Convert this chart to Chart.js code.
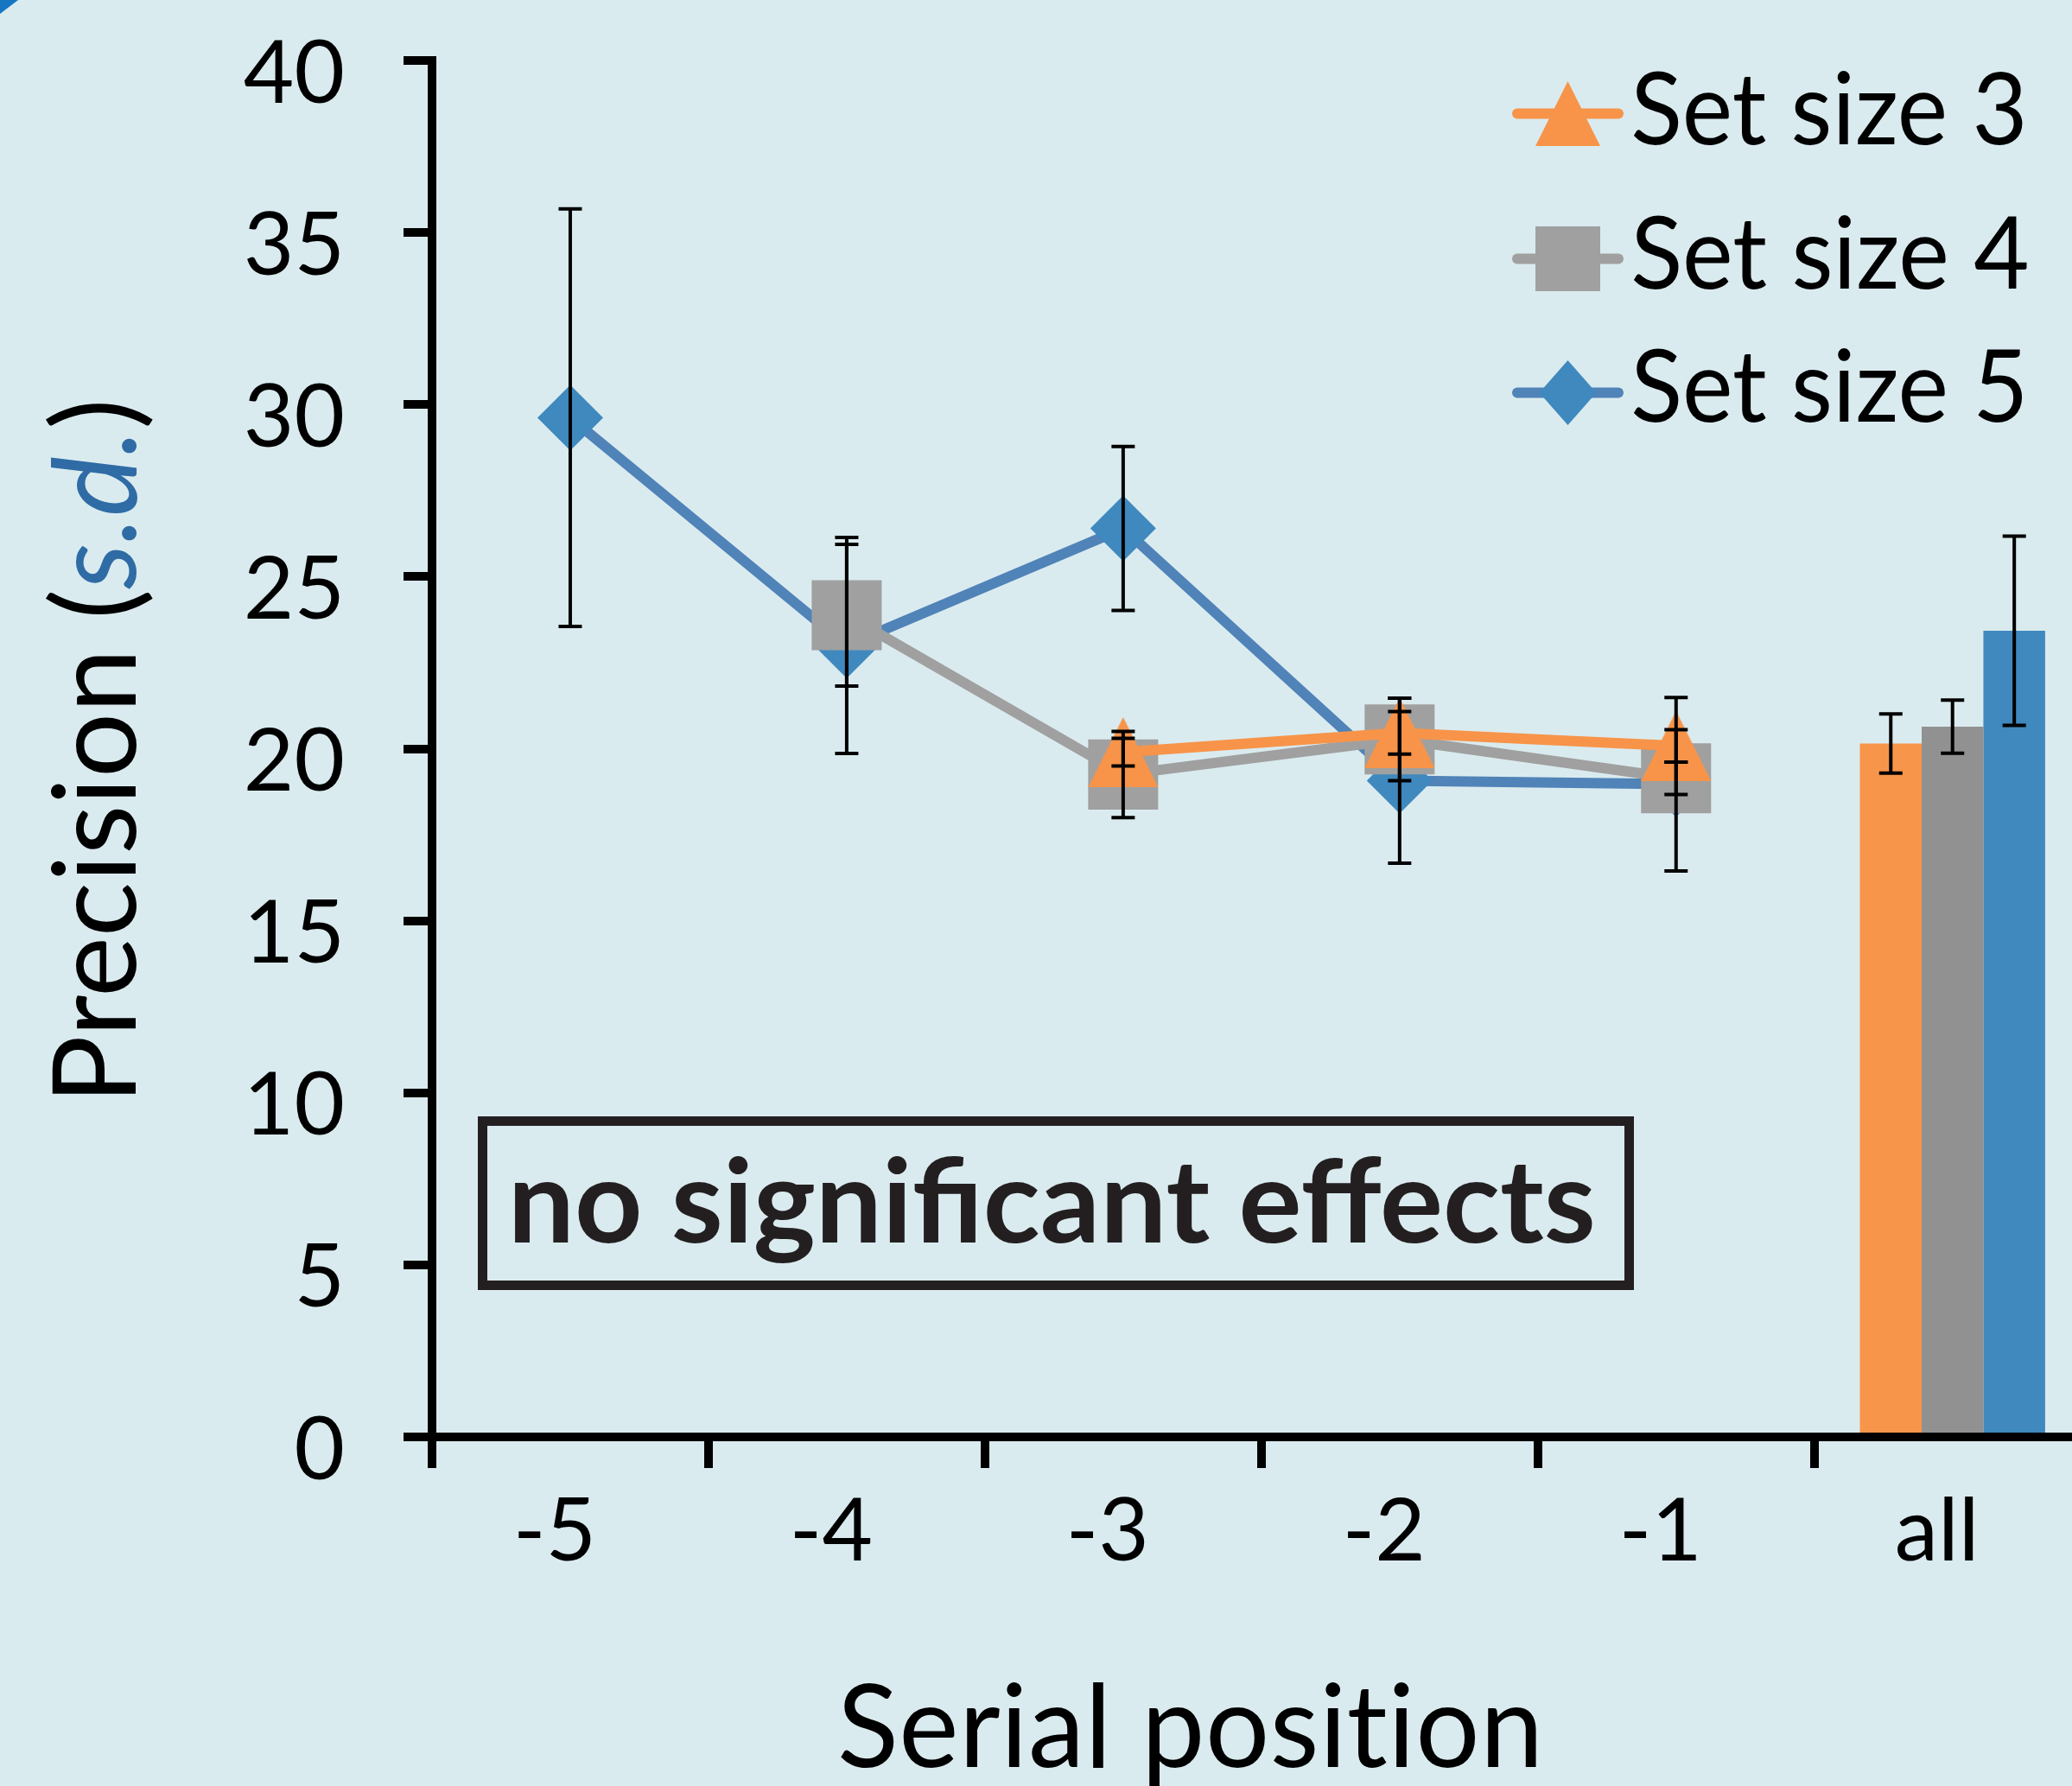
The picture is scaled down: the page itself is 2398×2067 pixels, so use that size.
<!DOCTYPE html>
<html><head><meta charset="utf-8">
<script src="https://cdn.jsdelivr.net/npm/chart.js@4"></script>
<style>html,body{margin:0;padding:0;background:#daebef;overflow:hidden;width:2398px;height:2067px}canvas{display:block}</style>
</head><body>
<canvas id="c" width="2477" height="2067"></canvas>
<script>
// ---- data ----
const categories = ['-5', '-4', '-3', '-2', '-1', 'all'];
const seriesLabels = ['Set size 3', 'Set size 4', 'Set size 5'];
const size3 = [null, null, 19.9, 20.46, 20.08, null];
const size3Err = [null, null, 0.40, 0.62, 0.47, null];
const size4 = [null, 23.88, 19.25, 20.27, 19.14, null];
const size4Err = [null, 2.06, 1.25, 1.20, 0.47, null];
const size5 = [29.62, 23.0, 26.4, 19.07, 18.97, null];
const size5Err = [6.07, 3.14, 2.38, 2.40, 2.52, null];
const allMeans = [20.15, 20.64, 23.43];
const allErr = [0.86, 0.77, 2.75];
const yTicks = [0, 5, 10, 15, 20, 25, 30, 35, 40];

// ---- styles ----
const ORANGE = '#f79449', GRAY = '#a0a0a0', BLUE_LINE = '#5083b8', BLUE = '#3f89bf';
const BAR_COLORS = ['#f7954a', '#919191', '#3f89be'];
const BG = '#daebef';

function makeTriangle(w, h, color) {
  const c = document.createElement('canvas'); c.width = w; c.height = h;
  const g = c.getContext('2d'); g.fillStyle = color;
  g.beginPath(); g.moveTo(w / 2, 0); g.lineTo(w, h); g.lineTo(0, h); g.closePath(); g.fill();
  return c;
}
const triImg = makeTriangle(81, 81, ORANGE);

function barData(k) { return categories.map((c, i) => i === categories.length - 1 ? allMeans[k] : null); }
function barErr(k) { return categories.map((c, i) => i === categories.length - 1 ? allErr[k] : null); }

const errorBarPlugin = {
  id: 'errorBars',
  afterDatasetsDraw(chart) {
    const ctx = chart.ctx, ys = chart.scales.y;
    chart.data.datasets.forEach((ds, di) => {
      if (!ds.errors) return;
      const meta = chart.getDatasetMeta(di);
      meta.data.forEach((el, i) => {
        const v = ds.data[i], e = ds.errors[i];
        if (v == null || e == null) return;
        const x = el.x, t = ys.getPixelForValue(v + e), b = ys.getPixelForValue(v - e);
        ctx.save(); ctx.strokeStyle = '#000'; ctx.lineWidth = 4;
        ctx.beginPath();
        ctx.moveTo(x, t); ctx.lineTo(x, b);
        ctx.moveTo(x - 13.5, t); ctx.lineTo(x + 13.5, t);
        ctx.moveTo(x - 13.5, b); ctx.lineTo(x + 13.5, b);
        ctx.stroke(); ctx.restore();
      });
    });
  }
};

function fitText(ctx, text, font, color, left, right, baseline, noLig) {
  ctx.save();
  ctx.font = font; ctx.textAlign = 'left'; ctx.textBaseline = 'alphabetic';
  if (noLig) { try { ctx.letterSpacing = '0.5px'; } catch (e) {} }
  const m = ctx.measureText(text);
  const ink = m.actualBoundingBoxLeft + m.actualBoundingBoxRight;
  const s = (right - left) / ink;
  ctx.translate(left, baseline); ctx.scale(s, 1);
  ctx.fillStyle = color; ctx.fillText(text, m.actualBoundingBoxLeft, 0);
  ctx.restore();
}

function drawYTitle(ctx) {
  const parts = [
    {t: 'Precision (', f: '400 134px Lato', c: '#000'},
    {t: 's.d.', f: 'italic 400 134px Lato', c: '#2f6ca5'},
    {t: ')', f: '400 134px Lato', c: '#000'}];
  ctx.save();
  ctx.textAlign = 'left'; ctx.textBaseline = 'alphabetic';
  let total = 0;
  parts.forEach(p => { ctx.font = p.f; p.w = ctx.measureText(p.t).width; total += p.w; });
  ctx.font = parts[0].f; const m0 = ctx.measureText(parts[0].t);
  ctx.font = parts[2].f; const m2 = ctx.measureText(parts[2].t);
  const inkStart = -m0.actualBoundingBoxLeft;
  const inkEnd = total - parts[2].w + m2.actualBoundingBoxRight;
  const s = (1266 - 467) / (inkEnd - inkStart);
  ctx.translate(157, 1266); ctx.rotate(-Math.PI / 2); ctx.scale(s, 1); ctx.translate(-inkStart, 0);
  let x = 0;
  parts.forEach(p => { ctx.font = p.f; ctx.fillStyle = p.c; ctx.fillText(p.t, x, 0); x += p.w; });
  ctx.restore();
}

function drawLegend(ctx) {
  const rows = [
    {color: ORANGE, shape: 'tri', cy: 131.5, base: 167, right: 2341},
    {color: GRAY, shape: 'sq', cy: 299.5, base: 334, right: 2346},
    {color: BLUE_LINE, mcolor: BLUE, shape: 'dia', cy: 454.5, base: 488, right: 2341}];
  rows.forEach((r, i) => {
    ctx.save();
    ctx.strokeStyle = r.color; ctx.lineWidth = 12; ctx.lineCap = 'round';
    ctx.beginPath(); ctx.moveTo(1756, r.cy); ctx.lineTo(1873, r.cy); ctx.stroke();
    ctx.fillStyle = r.mcolor || r.color;
    const cx = 1814.5;
    ctx.beginPath();
    if (r.shape === 'tri') { ctx.moveTo(cx, r.cy - 37.5); ctx.lineTo(cx + 37.5, r.cy + 37.5); ctx.lineTo(cx - 37.5, r.cy + 37.5); }
    else if (r.shape === 'sq') { ctx.rect(cx - 37.5, r.cy - 37.5, 75, 75); }
    else { ctx.moveTo(cx, r.cy - 37.5); ctx.lineTo(cx + 33, r.cy); ctx.lineTo(cx, r.cy + 37.5); ctx.lineTo(cx - 33, r.cy); }
    ctx.closePath(); ctx.fill();
    ctx.restore();
    fitText(ctx, seriesLabels[i], '400 117px Lato', '#000', 1890, r.right, r.base);
  });
}

const decorPlugin = {
  id: 'decor',
  beforeDraw(chart) {
    const ctx = chart.ctx;
    ctx.save(); ctx.fillStyle = BG; ctx.fillRect(0, 0, chart.width, chart.height);
    ctx.fillStyle = '#1776c1'; ctx.beginPath(); ctx.moveTo(0, 0); ctx.lineTo(21, 0); ctx.lineTo(0, 16); ctx.closePath(); ctx.fill();
    ctx.restore();
  },
  afterDraw(chart) {
    const ctx = chart.ctx;
    drawYTitle(ctx);
    fitText(ctx, 'Serial position', '400 133px Lato', '#000', 973, 1778, 2045, true);
    drawLegend(ctx);
    ctx.save(); ctx.strokeStyle = '#231f20'; ctx.lineWidth = 11;
    ctx.strokeRect(558.5, 1297.5, 1327, 190); ctx.restore();
    fitText(ctx, 'no significant effects', '700 134px Lato', '#231f20', 596, 1843, 1437.5);
  }
};

const lineCommon = {type: 'line', borderWidth: 12, tension: 0, fill: false, spanGaps: false,
  pointBorderWidth: 0, borderJoinStyle: 'round', borderCapStyle: 'round'};

new Chart(document.getElementById('c'), {
  type: 'line',
  data: {
    labels: categories,
    datasets: [
      Object.assign({}, lineCommon, {label: seriesLabels[0], data: size3, errors: size3Err,
        borderColor: ORANGE, backgroundColor: ORANGE, pointStyle: triImg, pointRadius: 40}),
      Object.assign({}, lineCommon, {label: seriesLabels[1], data: size4, errors: size4Err,
        borderColor: GRAY, backgroundColor: GRAY, pointStyle: 'rect', pointRadius: 57.3}),
      Object.assign({}, lineCommon, {label: seriesLabels[2], data: size5, errors: size5Err,
        borderColor: BLUE_LINE, backgroundColor: BLUE, pointStyle: 'rectRot', pointRadius: 38}),
      {type: 'bar', label: seriesLabels[0] + ' all', data: barData(0), errors: barErr(0), backgroundColor: BAR_COLORS[0],
        borderWidth: 0, categoryPercentage: 0.67, barPercentage: 1.0},
      {type: 'bar', label: seriesLabels[1] + ' all', data: barData(1), errors: barErr(1), backgroundColor: BAR_COLORS[1],
        borderWidth: 0, categoryPercentage: 0.67, barPercentage: 1.0},
      {type: 'bar', label: seriesLabels[2] + ' all', data: barData(2), errors: barErr(2), backgroundColor: BAR_COLORS[2],
        borderWidth: 0, categoryPercentage: 0.67, barPercentage: 1.0}
    ]
  },
  options: {
    responsive: false, animation: false, devicePixelRatio: 1,
    layout: {padding: {top: 70, left: 0, right: 0, bottom: 0}},
    plugins: {legend: {display: false}, tooltip: {enabled: false}, title: {display: false}},
    scales: {
      x: {
        type: 'category', offset: true,
        grid: {offset: true, drawOnChartArea: false, drawTicks: true, tickLength: 36, tickWidth: 10, tickColor: '#000', lineWidth: 10, color: '#000'},
        border: {display: true, width: 10, color: '#000', z: 1},
        ticks: {font: {family: 'Lato', size: 101}, color: '#000', padding: 14, labelOffset: -18, maxRotation: 0, autoSkip: false},
        afterFit: s => { s.height = 404; s.paddingLeft = 0; s.paddingRight = 0; }
      },
      y: {
        min: 0, max: 40,
        afterBuildTicks: s => { s.ticks = yTicks.map(v => ({value: v})); },
        grid: {drawOnChartArea: false, drawTicks: true, tickLength: 33, tickWidth: 10, tickColor: '#000', lineWidth: 10, color: '#000'},
        border: {display: true, width: 10, color: '#000', z: 1},
        ticks: {font: {family: 'Lato', size: 101}, color: '#000', padding: 68, labelOffset: 16},
        afterFit: s => { s.width = 500; s.paddingTop = 0; s.paddingBottom = 0; }
      }
    }
  },
  plugins: [errorBarPlugin, decorPlugin]
});
</script>
</body></html>
